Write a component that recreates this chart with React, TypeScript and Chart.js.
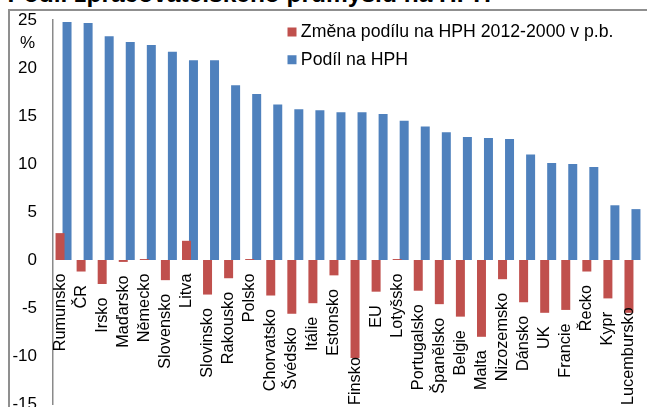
import React, { useEffect, useRef } from "react";
import { Chart, registerables } from "chart.js";

Chart.register(...registerables);

const TITLE = "Podíl zpracovatelského průmyslu na HPH";
const UNIT = "%";
const SERIES_NAMES = ["Změna podílu na HPH 2012-2000 v p.b.", "Podíl na HPH"];

const categories = [
  "Rumunsko", "ČR", "Irsko", "Maďarsko", "Německo", "Slovensko", "Litva",
  "Slovinsko", "Rakousko", "Polsko", "Chorvatsko", "Švédsko", "Itálie",
  "Estonsko", "Finsko", "EU", "Lotyšsko", "Portugalsko", "Španělsko",
  "Belgie", "Malta", "Nizozemsko", "Dánsko", "UK", "Francie", "Řecko",
  "Kypr", "Lucembursko",
];

const changeValues = [
  2.8, -1.2, -2.5, -0.2, 0.1, -2.1, 2.0,
  -3.6, -1.9, 0.1, -3.7, -5.6, -4.5,
  -1.6, -10.2, -3.3, 0.1, -3.2, -4.6,
  -5.9, -8.0, -2.0, -4.4, -5.5, -5.2, -1.2,
  -4.0, -5.5,
];

const shareValues = [
  24.8, 24.7, 23.3, 22.7, 22.4, 21.7, 20.8,
  20.8, 18.2, 17.3, 16.2, 15.7, 15.6,
  15.4, 15.4, 15.2, 14.5, 13.9, 13.3,
  12.8, 12.7, 12.6, 11.0, 10.1, 10.0, 9.7,
  5.7, 5.3,
];

const Y_MIN = -15;
const Y_MAX = 25;
const Y_STEP = 5;

const FONT = "'Liberation Sans', Arial, sans-serif";

export default function App() {
  const ref = useRef<HTMLCanvasElement | null>(null);

  useEffect(() => {
    const canvas = ref.current;
    if (!canvas) return;

    const legendPlacer = {
      id: "legendPlacer",
      afterLayout(chart: any) {
        const lg = chart.legend;
        if (!lg) return;
        const ca = chart.chartArea;
        const w = lg.width;
        lg.left = ca.left + 229;
        lg.top = ca.top - 6.85;
        lg.right = lg.left + w;
        lg.bottom = ca.bottom;
      },
    };

    const categoryLabels = {
      id: "categoryLabels",
      afterDatasetsDraw(chart: any) {
        const { ctx, chartArea } = chart;
        const meta = chart.getDatasetMeta(0);
        ctx.save();
        ctx.font = `16.3px ${FONT}`;
        ctx.fillStyle = "#000";
        ctx.textAlign = "right";
        ctx.textBaseline = "middle";
        meta.data.forEach((el: any, i: number) => {
          const p = el.getProps(["x", "y", "base"], true);
          const text = categories[i];
          const w = ctx.measureText(text).width;
          let top = Math.max(p.y, p.base) + 13.5;
          top = Math.min(top, chartArea.bottom + 1 - w);
          ctx.save();
          ctx.translate(p.x, top);
          ctx.rotate(-Math.PI / 2);
          ctx.fillText(text, 0, 0);
          ctx.restore();
        });
        // unit label under the top tick
        const ys = chart.scales.y;
        ctx.font = `17px ${FONT}`;
        const wTop = ctx.measureText(String(Y_MAX)).width;
        ctx.textAlign = "center";
        ctx.fillText(UNIT, ys.right - 16 - wTop / 2, ys.getPixelForValue(Y_MAX) + 23);
        ctx.restore();
      },
    };

    const chart = new Chart(canvas, {
      type: "bar",
      data: {
        labels: categories,
        datasets: [
          {
            label: SERIES_NAMES[0],
            data: changeValues,
            backgroundColor: "#C0504D",
            borderWidth: 0,
            categoryPercentage: 0.664,
            barPercentage: 1.2857,
          },
          {
            label: SERIES_NAMES[1],
            data: shareValues,
            backgroundColor: "#4F81BD",
            borderWidth: 0,
            categoryPercentage: 0.664,
            barPercentage: 1.2857,
          },
        ],
      },
      options: {
        responsive: false,
        animation: false,
        events: [],
        layout: { padding: { left: 0, right: 4, top: 20, bottom: 16 } },
        scales: {
          x: { display: false },
          y: {
            min: Y_MIN,
            max: Y_MAX,
            ticks: {
              stepSize: Y_STEP,
              color: "#000",
              padding: 16,
              font: { family: FONT, size: 17 },
            },
            grid: { display: false, drawTicks: false },
            border: { display: true, color: "#8a8a8a", width: 1.5 },
            afterFit(scale: any) {
              scale.width = 53;
              scale.paddingTop = 0;
              scale.paddingBottom = 0;
            },
          },
        },
        plugins: {
          title: { display: false },
          tooltip: { enabled: false },
          legend: {
            position: "chartArea" as any,
            align: "start",
            labels: {
              color: "#000",
              font: { family: FONT, size: 17.7 },
              usePointStyle: true,
              pointStyle: "rect",
              boxWidth: 0.01,
              boxHeight: 9,
              padding: 10,
            },
          },
        },
      },
      plugins: [legendPlacer, categoryLabels],
    });

    return () => chart.destroy();
  }, []);

  return (
    <div
      style={{
        position: "absolute",
        left: 0,
        top: 0,
        width: 647,
        height: 407,
        overflow: "hidden",
        background: "#fff",
      }}
    >
      <div
        style={{
          position: "absolute",
          left: 8,
          top: 9,
          width: 700,
          height: 500,
          border: "2px solid #8f8f8f",
        }}
      />
      <div
        style={{
          position: "absolute",
          left: 7.5,
          top: -18,
          whiteSpace: "nowrap",
          fontFamily: FONT,
          fontWeight: "bold",
          fontSize: 24.5,
          lineHeight: "24.5px",
          color: "#000",
        }}
      >
        {TITLE}
      </div>
      <canvas
        ref={ref}
        width={647}
        height={420}
        style={{ position: "absolute", left: 0, top: 0, width: 647, height: 420 }}
      />
    </div>
  );
}
